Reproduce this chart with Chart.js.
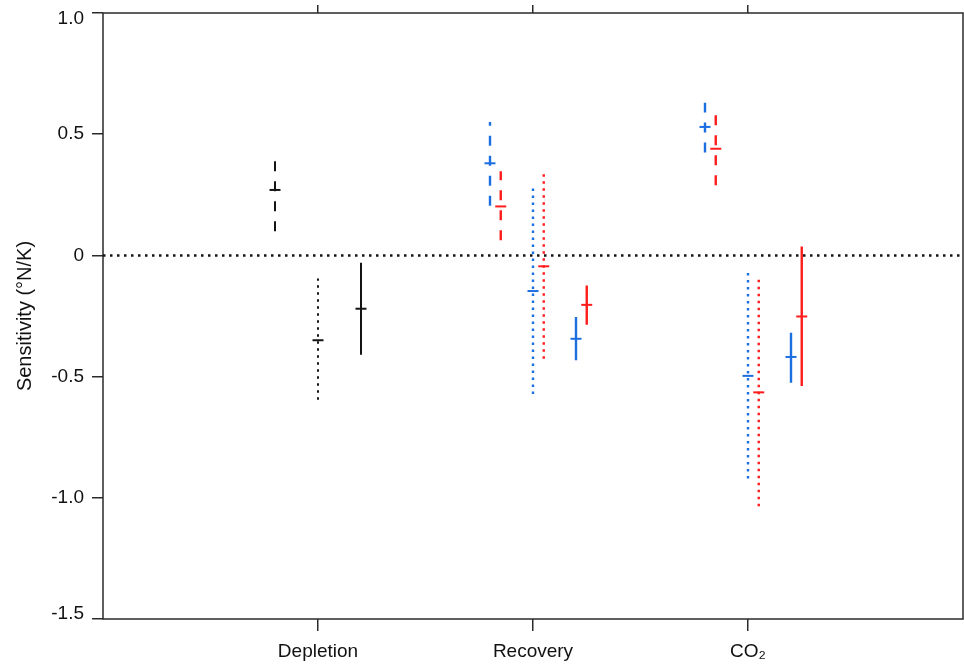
<!DOCTYPE html>
<html>
<head>
<meta charset="utf-8">
<script src="https://cdn.jsdelivr.net/npm/chart.js@4/dist/chart.umd.min.js"></script>
<style>
  html, body { margin: 0; padding: 0; background: #fff; }
  canvas { display: block; }
</style>
</head>
<body>
<canvas id="c" width="964" height="664"></canvas>
<script>
// ---- Data ----
const categories = ['Depletion', 'Recovery', 'CO\u2082'];
const categoryPositions = [1, 2, 3];
const yTickValues = [-1.5, -1.0, -0.5, 0, 0.5, 1.0];
const yTickLabels = ['-1.5', '-1.0', '-0.5', '0', '0.5', '1.0'];

// black (Depletion only)
const blackDashedMid  = [0.27, null, null];
const blackDashedLow  = [0.10, null, null];
const blackDashedHigh = [0.395, null, null];
const blackDottedMid  = [-0.35, null, null];
const blackDottedLow  = [-0.595, null, null];
const blackDottedHigh = [-0.095, null, null];
const blackSolidMid   = [-0.22, null, null];
const blackSolidLow   = [-0.41, null, null];
const blackSolidHigh  = [-0.03, null, null];

// blue
const blueDashedMid  = [null, 0.38, 0.53];
const blueDashedLow  = [null, 0.205, 0.425];
const blueDashedHigh = [null, 0.55, 0.63];
const blueDottedMid  = [null, -0.147, -0.497];
const blueDottedLow  = [null, -0.572, -0.92];
const blueDottedHigh = [null, 0.282, -0.071];
const blueSolidMid   = [null, -0.344, -0.419];
const blueSolidLow   = [null, -0.433, -0.525];
const blueSolidHigh  = [null, -0.254, -0.319];

// red
const redDashedMid  = [null, 0.202, 0.44];
const redDashedLow  = [null, 0.062, 0.289];
const redDashedHigh = [null, 0.347, 0.58];
const redDottedMid  = [null, -0.045, -0.565];
const redDottedLow  = [null, -0.426, -1.035];
const redDottedHigh = [null, 0.34, -0.096];
const redSolidMid   = [null, -0.204, -0.252];
const redSolidLow   = [null, -0.286, -0.539];
const redSolidHigh  = [null, -0.124, 0.037];

// ---- Styling ----
const FONT = '"Liberation Sans", Arial, Helvetica, sans-serif';
const BLACK = '#141414';
const BLUE = '#1b6fe0';
const RED = '#ff1c1c';
const styleOffsets = { dashed: -0.2, dotted: 0, solid: 0.2 };
const colorOffsets = { black: 0, blue: 0, red: 0.05 };
const dashes = { dashed: [10, 10], dotted: [2.5, 4.5], solid: [] };

const series = [
  { color: 'black', style: 'dashed', mid: blackDashedMid, low: blackDashedLow, high: blackDashedHigh },
  { color: 'black', style: 'dotted', mid: blackDottedMid, low: blackDottedLow, high: blackDottedHigh },
  { color: 'black', style: 'solid',  mid: blackSolidMid,  low: blackSolidLow,  high: blackSolidHigh },
  { color: 'blue',  style: 'dashed', mid: blueDashedMid,  low: blueDashedLow,  high: blueDashedHigh },
  { color: 'blue',  style: 'dotted', mid: blueDottedMid,  low: blueDottedLow,  high: blueDottedHigh },
  { color: 'blue',  style: 'solid',  mid: blueSolidMid,   low: blueSolidLow,   high: blueSolidHigh },
  { color: 'red',   style: 'dashed', mid: redDashedMid,   low: redDashedLow,   high: redDashedHigh },
  { color: 'red',   style: 'dotted', mid: redDottedMid,   low: redDottedLow,   high: redDottedHigh },
  { color: 'red',   style: 'solid',  mid: redSolidMid,    low: redSolidLow,    high: redSolidHigh },
];
const colorMap = { black: BLACK, blue: BLUE, red: RED };

const datasets = [];
series.forEach(s => {
  const col = colorMap[s.color];
  const lw = s.color === 'black' ? 2 : 2.4;
  const barPts = [];
  const midPts = [];
  categoryPositions.forEach((cx, i) => {
    if (s.mid[i] === null) return;
    const x = cx + styleOffsets[s.style] + colorOffsets[s.color];
    if (barPts.length) barPts.push({ x: x - 0.01, y: null });
    barPts.push({ x: x, y: s.low[i] });
    barPts.push({ x: x, y: s.high[i] });
    midPts.push({ x: x, y: s.mid[i] });
  });
  datasets.push({
    type: 'line', data: barPts, borderColor: col, borderWidth: lw,
    borderDash: dashes[s.style], borderCapStyle: 'butt', pointRadius: 0,
    spanGaps: false, fill: false, tension: 0, order: 1
  });
  datasets.push({
    type: 'line', data: midPts, showLine: false, pointStyle: 'line',
    pointRadius: 5.5, pointBorderWidth: 2, pointBorderColor: col,
    pointBackgroundColor: col, order: 0
  });
});
// zero reference line
datasets.push({
  type: 'line', data: [{ x: 0, y: 0 }, { x: 4, y: 0 }], borderColor: BLACK,
  borderWidth: 2.5, borderDash: [2.5, 4.5], pointRadius: 0, fill: false, order: 5
});

const frame = {
  id: 'frame',
  beforeDatasetsDraw(chart) {
    const { ctx, chartArea: a } = chart;
    ctx.save();
    ctx.strokeStyle = '#2a2a2a';
    ctx.lineWidth = 1.5;
    ctx.strokeRect(a.left, a.top, a.right - a.left, a.bottom - a.top);
    ctx.restore();
  }
};

const catTicks = s => { s.ticks = categoryPositions.map(v => ({ value: v })); };
const zeroPad = s => { s.paddingTop = 0; s.paddingBottom = 0; s.paddingLeft = 0; s.paddingRight = 0; };
// first/last y labels are nudged inward, as in the reference
const yLabel = (v, i) => {
  const t = yTickLabels[i];
  if (i === 0) return [t, ''];
  if (i === yTickLabels.length - 1) return ['', t];
  return t;
};

new Chart(document.getElementById('c'), {
  type: 'line',
  data: { datasets },
  options: {
    responsive: false,
    animation: false,
    layout: { autoPadding: false, padding: { left: 0, right: 1, top: 0, bottom: 0 } },
    plugins: { legend: { display: false }, tooltip: { enabled: false } },
    scales: {
      x: {
        type: 'linear', position: 'bottom', min: 0, max: 4,
        afterBuildTicks: catTicks,
        afterFit: s => { s.height = 45; zeroPad(s); },
        ticks: {
          callback: (v, i) => categories[i], autoSkip: false, maxRotation: 0,
          font: { family: FONT, size: 19 }, color: '#111', padding: 9
        },
        grid: { drawOnChartArea: false, tickLength: 12, color: '#2a2a2a', lineWidth: 1.5 },
        border: { display: false }
      },
      xTop: {
        type: 'linear', position: 'top', min: 0, max: 4,
        afterBuildTicks: catTicks,
        afterFit: s => { s.height = 13; zeroPad(s); },
        ticks: { display: false },
        grid: { drawOnChartArea: false, tickLength: 8, color: '#2a2a2a', lineWidth: 1.5 },
        border: { display: false }
      },
      y: {
        type: 'linear', position: 'left', min: -1.5, max: 1.0,
        afterBuildTicks: s => { s.ticks = yTickValues.map(v => ({ value: v })); },
        afterFit: s => { s.width = 103; zeroPad(s); },
        ticks: {
          callback: yLabel,
          font: { family: FONT, size: 19, lineHeight: 0.6 }, color: '#111', padding: 8
        },
        grid: { drawOnChartArea: false, tickLength: 11, color: '#2a2a2a', lineWidth: 1.5 },
        border: { display: false },
        title: {
          display: true, text: 'Sensitivity (\u00B0N/K)', color: '#111',
          font: { family: FONT, size: 20 }, padding: { top: 13, bottom: 0 }
        }
      }
    }
  },
  plugins: [frame]
});
</script>
</body>
</html>
